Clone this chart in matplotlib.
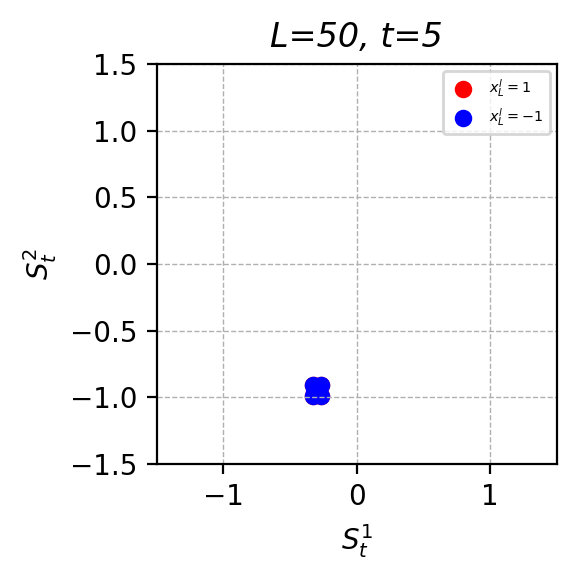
import numpy as np
import matplotlib.pyplot as plt

# points for x_L^l = 1 (hidden under blue) and x_L^l = -1
red_x = [-0.33, -0.27, -0.33, -0.27, -0.30]
red_y = [-0.91, -0.91, -0.99, -0.99, -0.95]
blue_x = [-0.33, -0.27, -0.33, -0.27, -0.30, -0.31, -0.28, -0.32, -0.28]
blue_y = [-0.91, -0.91, -0.99, -0.99, -0.95, -0.93, -0.97, -0.96, -0.94]

fig, ax = plt.subplots(figsize=(2.9, 2.9), dpi=200)
ax.scatter(red_x, red_y, c='red', s=28, label=r'$x_L^l=1$')
ax.scatter(blue_x, blue_y, c='blue', s=28, label=r'$x_L^l=-1$')
ax.set_xlim(-1.5, 1.5)
ax.set_ylim(-1.5, 1.5)
ax.set_aspect('equal')
ax.grid(True, linestyle='--', linewidth=0.5)
ax.set_xlabel(r'$S_t^1$')
ax.set_ylabel(r'$S_t^2$')
ax.set_title('L=50, t=5', fontstyle='italic')
ax.legend(loc='upper right', fontsize=5.2)
fig.subplots_adjust(left=0.27, right=0.96, bottom=0.2, top=0.89)
fig.savefig('out.png')
